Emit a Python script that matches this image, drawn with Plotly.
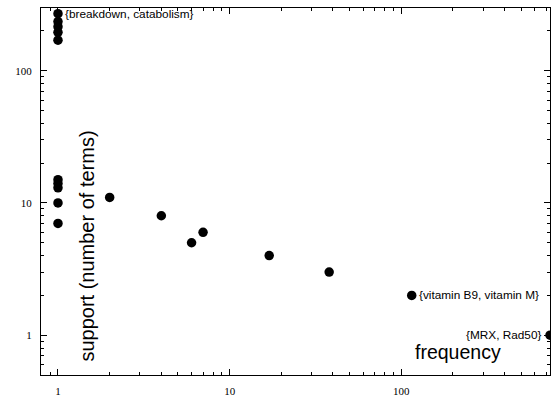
import math
import plotly.graph_objects as go

# data: frequency (x) vs support (number of terms) (y)
frequency = [1, 1, 1, 1, 1, 1, 1, 1, 1, 1, 2, 4, 6, 7, 17, 38, 115, 735]
support = [270, 235, 215, 195, 170, 15, 14, 13, 10, 7, 11, 8, 5, 6, 4, 3, 2, 1]

labels = [
    ("{breakdown, catabolism}", 1, 270, "left"),
    ("{vitamin B9, vitamin M}", 115, 2, "left"),
    ("{MRX, Rad50}", 735, 1, "right"),
]

tickvals = [1, 10, 100]
ticktext = ["1", "10", "100"]
x_minor = [0.8, 0.9] + [d * m for m in (1, 10, 100) for d in range(2, 10) if d * m < 740]
y_minor = [0.5, 0.6, 0.7, 0.8, 0.9] + [d * m for m in (1, 10, 100) for d in range(2, 10) if d * m < 300]

fig = go.Figure()
fig.add_trace(go.Scatter(
    x=frequency, y=support, mode="markers",
    marker=dict(color="black", size=9.5, line=dict(width=0)),
    cliponaxis=True, showlegend=False, hoverinfo="x+y",
))

for text, xv, yv, side in labels:
    fig.add_annotation(
        x=math.log10(xv), y=math.log10(yv), xref="x", yref="y",
        text=text, showarrow=False,
        xanchor=side, yanchor="middle",
        xshift=5 if side == "left" else -7,
        font=dict(family="Liberation Sans, Arial, sans-serif", size=11.8, color="black"),
    )

W, H = 552, 398
ml, mr, mt, mb = 41, 1, 8, 21
pw, ph = W - ml - mr, H - mt - mb


def px(xp, yp):
    return (xp - ml) / pw, 1 - (yp - mt) / ph


ax, ay = px(87, 247)
fig.add_annotation(
    x=ax, y=ay, xref="paper", yref="paper", text="support (number of terms)",
    showarrow=False, textangle=-90, xanchor="center", yanchor="middle",
    font=dict(family="Liberation Sans, Arial, sans-serif", size=20, color="black"),
)
fx, fy = px(459, 354)
fig.add_annotation(
    x=fx, y=fy, xref="paper", yref="paper", text="frequency",
    showarrow=False, xanchor="center", yanchor="middle",
    font=dict(family="Liberation Sans, Arial, sans-serif", size=19.5, color="black"),
)

axis_common = dict(
    type="log", showgrid=False, zeroline=False,
    showline=True, linecolor="black", linewidth=1, mirror="allticks",
    ticks="inside", ticklen=6, tickcolor="black", tickwidth=1,
    tickvals=tickvals, ticktext=ticktext,
    tickfont=dict(family="Liberation Serif, Times New Roman, serif", size=11, color="black"),
)

fig.update_layout(
    width=W, height=H,
    margin=dict(l=ml, r=mr, t=mt, b=mb, pad=0),
    paper_bgcolor="white", plot_bgcolor="white",
    xaxis=dict(range=[-0.099, math.log10(735)], ticklabelstandoff=6,
               minor=dict(tickmode="array", tickvals=x_minor, ticks="inside", ticklen=3,
                          tickcolor="black", tickwidth=1, showgrid=False),
               **axis_common),
    yaxis=dict(range=[-0.301, 2.474], ticklabelstandoff=6,
               minor=dict(tickmode="array", tickvals=y_minor, ticks="inside", ticklen=3,
                          tickcolor="black", tickwidth=1, showgrid=False),
               **axis_common),
)

fig.write_html("out.html", config={"displayModeBar": False},
               post_script="document.body.style.margin='0';")
